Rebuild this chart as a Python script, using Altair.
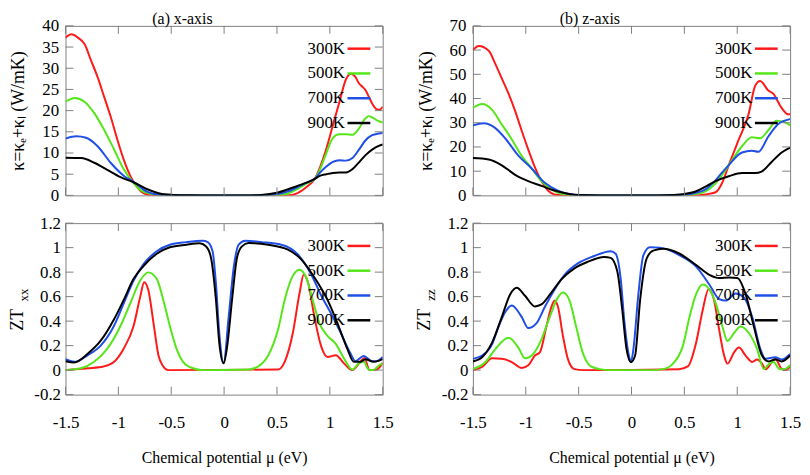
import altair as alt
import pandas as pd

TEMPS = ["300K", "500K", "700K", "900K"]
COLORS = ["#ff1a1a", "#55e61a", "#1f4fe6", "#000000"]
X_TICKS = [-1.5, -1, -0.5, 0, 0.5, 1, 1.5]
KA_TICKS = [0, 5, 10, 15, 20, 25, 30, 35, 40]
KB_TICKS = [0, 10, 20, 30, 40, 50, 60, 70]
ZT_TICKS = [-0.2, 0, 0.2, 0.4, 0.6, 0.8, 1, 1.2]

# (a) x-axis: thermal conductivity
KA_300 = [(-1.5, 37.2), (-1.444, 38.0), (-1.382, 37.2), (-1.32, 35.7), (-1.258, 31.8), (-1.196, 27.9),
          (-1.135, 23.3), (-1.073, 18.6), (-1.01, 13.2), (-0.95, 8.5), (-0.888, 4.65), (-0.857, 3.2),
          (-0.82, 1.9), (-0.78, 0.8), (-0.72, 0.2), (-0.65, 0.03), (-0.55, 0.0), (0.55, 0.0),
          (0.62, 0.05), (0.67, 0.3), (0.72, 0.9), (0.78, 2.0), (0.858, 3.9), (0.905, 6.5),
          (0.967, 11.0), (1.028, 16.5), (1.09, 22.0), (1.153, 27.4), (1.2, 28.7), (1.24, 28.0),
          (1.276, 26.4), (1.31, 25.6), (1.338, 24.8), (1.37, 23.2), (1.40, 21.7), (1.446, 20.3),
          (1.47, 20.2), (1.5, 20.9)]
KA_500 = [(-1.5, 22.1), (-1.413, 23.0), (-1.32, 22.1), (-1.228, 19.4), (-1.135, 15.5), (-1.042, 10.9),
          (-0.95, 6.2), (-0.87, 3.3), (-0.794, 1.3), (-0.7, 0.4), (-0.6, 0.1), (-0.5, 0.02),
          (-0.4, 0.0), (0.4, 0.0), (0.5, 0.08), (0.6, 0.4), (0.7, 1.6), (0.78, 2.8), (0.858, 3.9),
          (0.905, 6.0), (0.967, 10.0), (1.028, 13.5), (1.09, 14.4), (1.153, 14.4), (1.214, 14.3),
          (1.276, 15.8), (1.338, 18.2), (1.369, 18.7), (1.40, 18.4), (1.462, 17.5), (1.5, 17.2)]
KA_700 = [(-1.5, 13.4), (-1.398, 13.95), (-1.305, 13.6), (-1.196, 11.6), (-1.073, 7.7), (-0.95, 4.65),
          (-0.857, 3.2), (-0.73, 0.9), (-0.61, 0.15), (-0.5, 0.03), (-0.4, 0.0), (0.35, 0.0),
          (0.5, 0.3), (0.6, 0.9), (0.7, 2.0), (0.78, 3.0), (0.858, 3.9), (0.905, 5.3), (0.967, 6.8),
          (1.028, 7.9), (1.09, 8.3), (1.153, 8.2), (1.214, 8.8), (1.276, 10.8), (1.338, 13.0),
          (1.40, 14.2), (1.462, 14.6), (1.5, 14.7)]
KA_900 = [(-1.5, 8.9), (-1.35, 8.8), (-1.228, 7.7), (-1.104, 6.0), (-0.98, 4.3), (-0.857, 3.1),
          (-0.732, 1.5), (-0.609, 0.45), (-0.48, 0.12), (-0.35, 0.02), (-0.2, 0.0), (0.2, 0.0),
          (0.35, 0.1), (0.5, 0.6), (0.6, 1.4), (0.7, 2.3), (0.78, 3.0), (0.858, 3.9), (0.905, 4.6),
          (0.967, 5.0), (1.028, 5.3), (1.09, 5.4), (1.153, 5.4), (1.214, 6.2), (1.276, 7.8),
          (1.338, 9.5), (1.40, 10.8), (1.462, 11.7), (1.5, 12.0)]

# (b) z-axis: thermal conductivity
KB_300 = [(-1.5, 60.0), (-1.444, 61.7), (-1.35, 59.7), (-1.29, 54.5), (-1.23, 48.6), (-1.163, 42.0),
          (-1.10, 34.8), (-1.04, 26.9), (-0.977, 19.0), (-0.915, 11.8), (-0.852, 5.9), (-0.79, 2.0),
          (-0.73, 0.4), (-0.65, 0.05), (-0.55, 0.0), (0.6, 0.0), (0.7, 0.4), (0.796, 1.3),
          (0.858, 5.2), (0.92, 12.5), (1.014, 23.0), (1.107, 33.5), (1.17, 45.3), (1.217, 47.2),
          (1.294, 43.3), (1.34, 42.0), (1.42, 36.1), (1.48, 33.5), (1.5, 33.5)]
KB_500 = [(-1.5, 36.1), (-1.413, 37.7), (-1.32, 35.4), (-1.23, 29.5), (-1.13, 23.0), (-1.04, 16.4),
          (-0.946, 11.2), (-0.852, 5.9), (-0.76, 2.6), (-0.665, 0.7), (-0.55, 0.1), (-0.45, 0.0),
          (0.4, 0.0), (0.5, 0.1), (0.6, 0.5), (0.7, 1.7), (0.796, 5.0), (0.858, 8.5), (0.92, 12.5),
          (1.045, 20.3), (1.138, 24.0), (1.217, 23.6), (1.294, 26.9), (1.372, 30.8), (1.45, 30.2),
          (1.5, 28.9)]
KB_700 = [(-1.5, 28.9), (-1.397, 29.8), (-1.30, 28.2), (-1.195, 23.6), (-1.07, 16.4), (-0.946, 11.2),
          (-0.82, 5.2), (-0.697, 2.0), (-0.57, 0.4), (-0.45, 0.05), (-0.35, 0.0), (0.35, 0.0),
          (0.5, 0.3), (0.6, 1.0), (0.7, 2.5), (0.796, 6.3), (0.858, 9.5), (0.92, 12.5), (1.045, 17.7),
          (1.138, 18.4), (1.2, 18.0), (1.294, 24.3), (1.388, 29.5), (1.5, 31.5)]
KB_900 = [(-1.5, 15.4), (-1.35, 14.8), (-1.23, 12.5), (-1.10, 8.5), (-0.977, 5.9), (-0.852, 3.9),
          (-0.73, 2.0), (-0.60, 0.7), (-0.48, 0.15), (-0.3, 0.0), (0.25, 0.0), (0.4, 0.2), (0.5, 0.6),
          (0.6, 1.5), (0.7, 3.6), (0.796, 5.9), (0.92, 7.9), (1.045, 9.2), (1.17, 9.2), (1.23, 9.8),
          (1.325, 13.8), (1.42, 17.7), (1.5, 19.7)]

# (a) figure of merit ZTxx
ZA_300 = [(-1.5, 0.0), (-1.29, 0.015), (-1.14, 0.03), (-1.04, 0.068), (-0.95, 0.175), (-0.856, 0.36),
          (-0.793, 0.6), (-0.756, 0.718), (-0.716, 0.652), (-0.668, 0.386), (-0.621, 0.121),
          (-0.575, 0.03), (-0.53, 0.0), (0.51, 0.005), (0.573, 0.068), (0.651, 0.307), (0.713, 0.626),
          (0.754, 0.78), (0.797, 0.705), (0.853, 0.44), (0.916, 0.2), (0.978, 0.108), (1.056, 0.121),
          (1.134, 0.055), (1.212, 0.0), (1.289, 0.068), (1.326, 0.1), (1.376, 0.0), (1.444, 0.005),
          (1.5, 0.06)]
ZA_500 = [(-1.5, 0.0), (-1.353, 0.015), (-1.229, 0.068), (-1.104, 0.175), (-0.98, 0.36), (-0.887, 0.546),
          (-0.793, 0.732), (-0.716, 0.798), (-0.637, 0.745), (-0.575, 0.573), (-0.513, 0.36),
          (-0.45, 0.175), (-0.388, 0.068), (-0.295, 0.015), (-0.2, 0.0), (0.231, 0.005), (0.324, 0.03),
          (0.418, 0.121), (0.511, 0.334), (0.573, 0.573), (0.636, 0.745), (0.713, 0.82), (0.775, 0.758),
          (0.838, 0.573), (0.9, 0.386), (0.978, 0.28), (1.056, 0.214), (1.134, 0.095), (1.212, 0.005),
          (1.274, 0.055), (1.32, 0.07), (1.367, 0.005), (1.41, 0.0), (1.476, 0.045), (1.5, 0.05)]
ZA_700 = [(-1.5, 0.089), (-1.416, 0.068), (-1.291, 0.121), (-1.167, 0.2), (-1.042, 0.36), (-0.949, 0.546),
          (-0.856, 0.732), (-0.762, 0.865), (-0.637, 0.971), (-0.513, 1.024), (-0.357, 1.045),
          (-0.202, 1.056), (-0.155, 1.045), (-0.109, 0.971), (-0.077, 0.705), (-0.046, 0.307),
          (-0.005, 0.06), (0.044, 0.44), (0.091, 0.838), (0.138, 1.024), (0.2, 1.056), (0.355, 1.045),
          (0.542, 1.024), (0.698, 0.944), (0.822, 0.785), (0.916, 0.613), (1.009, 0.466), (1.102, 0.307),
          (1.196, 0.135), (1.242, 0.073), (1.32, 0.116), (1.398, 0.073), (1.44, 0.073), (1.5, 0.108)]
ZA_900 = [(-1.5, 0.073), (-1.416, 0.063), (-1.29, 0.134), (-1.167, 0.24), (-1.042, 0.413), (-0.949, 0.573),
          (-0.856, 0.745), (-0.762, 0.85), (-0.637, 0.95), (-0.513, 1.003), (-0.357, 1.024),
          (-0.233, 1.035), (-0.17, 1.01), (-0.124, 0.918), (-0.077, 0.573), (-0.046, 0.227),
          (-0.005, 0.055), (0.03, 0.2), (0.075, 0.573), (0.122, 0.918), (0.169, 1.01), (0.231, 1.037),
          (0.418, 1.024), (0.604, 0.984), (0.729, 0.904), (0.853, 0.758), (0.978, 0.573), (1.071, 0.386),
          (1.165, 0.175), (1.226, 0.068), (1.29, 0.068), (1.336, 0.089), (1.414, 0.068), (1.5, 0.09)]

# (b) figure of merit ZTzz
ZB_300 = [(-1.5, 0.0), (-1.413, 0.026), (-1.319, 0.097), (-1.226, 0.092), (-1.132, 0.066), (-1.039, 0.018),
          (-0.976, 0.04), (-0.913, 0.119), (-0.867, 0.145), (-0.805, 0.356), (-0.758, 0.515),
          (-0.726, 0.568), (-0.695, 0.515), (-0.648, 0.277), (-0.602, 0.092), (-0.54, 0.008),
          (-0.45, 0.0), (0.45, 0.008), (0.533, 0.03), (0.611, 0.224), (0.673, 0.489), (0.729, 0.66),
          (0.782, 0.568), (0.829, 0.33), (0.876, 0.119), (0.907, 0.053), (0.97, 0.145), (1.016, 0.184),
          (1.079, 0.119), (1.141, 0.066), (1.188, 0.087), (1.234, 0.053), (1.27, 0.008), (1.328, 0.066),
          (1.36, 0.092), (1.42, 0.01), (1.46, 0.0), (1.5, 0.03)]
ZB_500 = [(-1.5, 0.008), (-1.381, 0.066), (-1.288, 0.172), (-1.163, 0.264), (-1.07, 0.184), (-1.007, 0.097),
          (-0.929, 0.132), (-0.852, 0.251), (-0.773, 0.435), (-0.695, 0.594), (-0.648, 0.633),
          (-0.586, 0.568), (-0.524, 0.356), (-0.462, 0.145), (-0.384, 0.03), (-0.3, 0.008), (-0.2, 0.0),
          (0.2, 0.0), (0.3, 0.008), (0.392, 0.053), (0.486, 0.198), (0.549, 0.435), (0.611, 0.62),
          (0.673, 0.699), (0.736, 0.66), (0.798, 0.541), (0.86, 0.356), (0.907, 0.237), (0.97, 0.303),
          (1.032, 0.356), (1.11, 0.303), (1.188, 0.172), (1.25, 0.01), (1.3, 0.05), (1.344, 0.066),
          (1.40, 0.008), (1.45, 0.01), (1.5, 0.04)]
ZB_700 = [(-1.5, 0.092), (-1.413, 0.119), (-1.319, 0.21), (-1.257, 0.356), (-1.194, 0.475), (-1.132, 0.528),
          (-1.039, 0.435), (-0.976, 0.343), (-0.898, 0.383), (-0.82, 0.515), (-0.726, 0.66),
          (-0.633, 0.778), (-0.508, 0.871), (-0.352, 0.932), (-0.197, 0.971), (-0.15, 0.95),
          (-0.103, 0.752), (-0.066, 0.383), (-0.025, 0.119), (-0.005, 0.068), (0.018, 0.172),
          (0.065, 0.62), (0.112, 0.937), (0.174, 1.003), (0.268, 1.0), (0.455, 0.937), (0.611, 0.845),
          (0.736, 0.699), (0.829, 0.58), (0.892, 0.568), (0.985, 0.626), (1.063, 0.594), (1.141, 0.435),
          (1.219, 0.172), (1.266, 0.092), (1.36, 0.105), (1.42, 0.087), (1.5, 0.132)]
ZB_900 = [(-1.5, 0.071), (-1.413, 0.105), (-1.319, 0.224), (-1.226, 0.435), (-1.147, 0.62), (-1.085, 0.673),
          (-1.007, 0.607), (-0.913, 0.52), (-0.852, 0.536), (-0.758, 0.633), (-0.665, 0.739),
          (-0.54, 0.831), (-0.415, 0.884), (-0.259, 0.924), (-0.197, 0.916), (-0.134, 0.805),
          (-0.087, 0.489), (-0.047, 0.172), (-0.005, 0.065), (0.034, 0.119), (0.081, 0.568),
          (0.143, 0.91), (0.205, 0.976), (0.299, 0.99), (0.455, 0.95), (0.611, 0.858), (0.736, 0.778),
          (0.829, 0.752), (0.923, 0.757), (1.001, 0.752), (1.079, 0.62), (1.157, 0.356), (1.234, 0.119),
          (1.297, 0.071), (1.36, 0.087), (1.42, 0.071), (1.5, 0.119)]

FONT = "Liberation Serif"
GRAY = "#808080"
W = 320
H1 = 171
H2 = 173
TICK = 8
LBL = "'' + datum.value"


def panel(series, ydom, yticks, H, ytitle=None, title=None, xaxis=False, zt_sub=None):
    rows = []
    for t, pts in zip(TEMPS, series):
        for x, y in pts:
            rows.append({"mu": x, "v": y, "T": t})
    df = pd.DataFrame(rows)
    xs = alt.Scale(domain=[-1.5, 1.5], nice=False, zero=False)
    ys = alt.Scale(domain=ydom, nice=False, zero=False)
    if xaxis:
        xax = alt.Axis(values=X_TICKS, title="Chemical potential μ (eV)", labelPadding=20,
                       titlePadding=19, labelFontSize=17, titleFontSize=16, labelFont=FONT,
                       titleFont=FONT, labelFlush=False, labelExpr=LBL, labelColor="black",
                       titleColor="black", titleFontWeight="normal")
    else:
        xax = None
    yargs = dict(values=yticks, labelFontSize=17, labelPadding=7 if ytitle else 5, labelFont=FONT,
                 labelExpr=LBL, labelColor="black", labelFlush=False)
    if ytitle:
        yargs.update(title=ytitle, titlePadding=14, titleFontSize=18, titleFont=FONT,
                     titleColor="black", titleFontWeight="normal")
    else:
        yargs.update(title=None)
    legend = alt.Legend(title=None, orient="none", legendX=283, legendY=10, symbolType="stroke",
                        symbolSize=529, symbolStrokeWidth=2.5, labelAlign="right",
                        labelOffset={"expr": "-27"},
                        labelFont=FONT, labelFontSize=17, labelColor="#000000", rowPadding=4, padding=0)
    lines = alt.Chart(df).mark_line(strokeWidth=2, interpolate="monotone", clip=True).encode(
        x=alt.X("mu:Q", scale=xs, axis=xax),
        y=alt.Y("v:Q", scale=ys, axis=alt.Axis(**yargs)),
        color=alt.Color("T:N", scale=alt.Scale(domain=TEMPS, range=COLORS), legend=legend),
    )
    xt = pd.DataFrame({"t": X_TICKS})
    yt = pd.DataFrame({"t": yticks})
    tick_top = alt.Chart(xt).mark_rule(color=GRAY, strokeWidth=1).encode(
        x=alt.X("t:Q", scale=xs, axis=None), y=alt.value(0), y2=alt.value(TICK))
    tick_bot = alt.Chart(xt).mark_rule(color=GRAY, strokeWidth=1).encode(
        x=alt.X("t:Q", scale=xs, axis=None), y=alt.value(H), y2=alt.value(H - TICK))
    tick_l = alt.Chart(yt).mark_rule(color=GRAY, strokeWidth=1).encode(
        y=alt.Y("t:Q", scale=ys, axis=None), x=alt.value(0), x2=alt.value(TICK))
    tick_r = alt.Chart(yt).mark_rule(color=GRAY, strokeWidth=1).encode(
        y=alt.Y("t:Q", scale=ys, axis=None), x=alt.value(W - TICK), x2=alt.value(W))
    layers = [lines, tick_top, tick_bot, tick_l, tick_r]
    if zt_sub:
        one = pd.DataFrame({"a": [0]})
        zt = alt.Chart(one).mark_text(angle=270, font=FONT, fontSize=18, color="black",
                                      baseline="middle", align="center").encode(
            x=alt.value(-48), y=alt.value(H / 2 + 11), text=alt.value("ZT"))
        sub = alt.Chart(one).mark_text(angle=270, font=FONT, fontSize=13, color="black",
                                       baseline="middle", align="center").encode(
            x=alt.value(-42), y=alt.value(H / 2 - 14), text=alt.value(zt_sub))
        layers += [zt, sub]
    props = dict(width=W, height=H)
    if title:
        props["title"] = alt.TitleParams(title, font=FONT, fontSize=16, fontWeight="normal",
                                         dx=-42, offset=-10, color="black")
    return alt.layer(*layers).resolve_axis(x="independent", y="independent").properties(**props)


KTITLE = "κ=κₑ+κₗ (W/mK)"
a1 = panel([KA_300, KA_500, KA_700, KA_900], [0, 40], KA_TICKS, H1, ytitle=KTITLE, title="(a) x-axis")
b1 = panel([KB_300, KB_500, KB_700, KB_900], [0, 70], KB_TICKS, H1, ytitle=KTITLE, title="(b) z-axis")
a2 = panel([ZA_300, ZA_500, ZA_700, ZA_900], [-0.2, 1.2], ZT_TICKS, H2, xaxis=True, zt_sub="xx")
b2 = panel([ZB_300, ZB_500, ZB_700, ZB_900], [-0.2, 1.2], ZT_TICKS, H2, xaxis=True, zt_sub="zz")

chart = alt.concat(a1, b1, a2, b2, columns=2, spacing={"row": 9, "column": 21}).resolve_scale(
    color="independent").resolve_legend(color="independent").properties(padding=0).configure_view(
    stroke=GRAY, strokeWidth=1).configure_axis(
    labelFont=FONT, titleFont=FONT, labelColor="black", titleColor="black", grid=False,
    domain=False, ticks=False, tickSize=0, titleFontWeight="normal")

chart.save("out.html", embed_options={"renderer": "svg", "actions": False})
